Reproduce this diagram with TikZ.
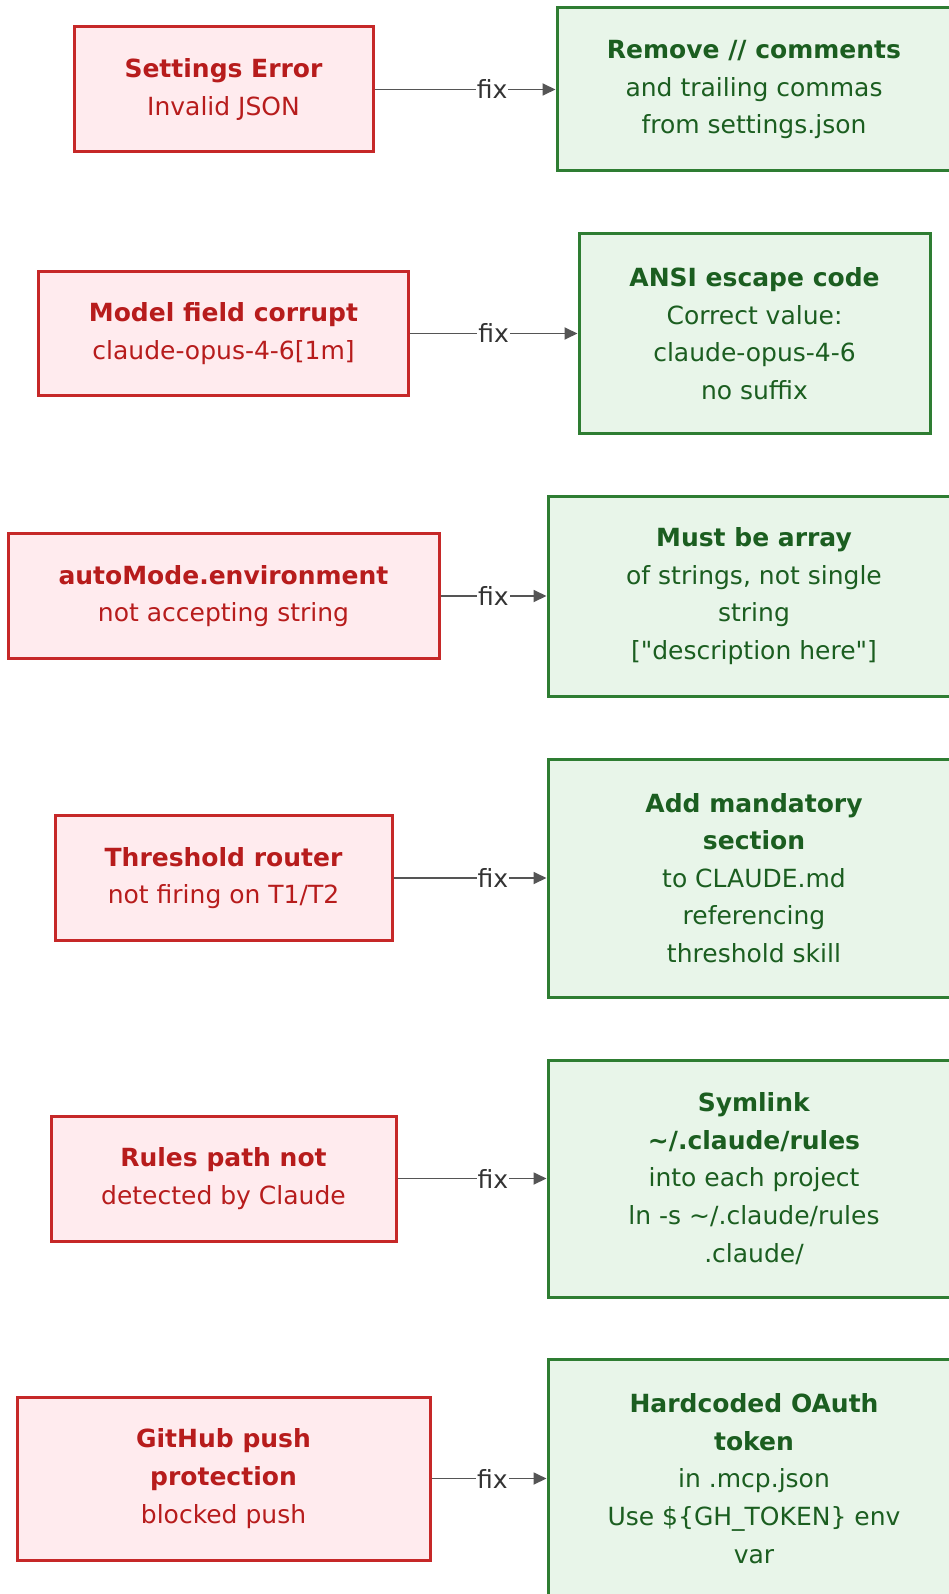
\documentclass[tikz,border=0pt]{standalone}
\usepackage{fontspec}
\setmainfont{DejaVu Sans}
\usetikzlibrary{arrows.meta}
\newcommand\straightdq{\XeTeXglyph\XeTeXcharglyph"22\relax}
\definecolor{errfill}{HTML}{FFEBEE}
\definecolor{errdraw}{HTML}{C62828}
\definecolor{errtext}{HTML}{B71C1C}
\definecolor{fixfill}{HTML}{E8F5E9}
\definecolor{fixdraw}{HTML}{2E7D32}
\definecolor{fixtext}{HTML}{1B5E20}
\definecolor{edgecol}{HTML}{555555}
\definecolor{labcol}{HTML}{333333}
\tikzset{
  basefont/.style={font=\fontsize{25}{37.6}\selectfont},
  errbox/.style={basefont, draw=errdraw, fill=errfill, text=errtext, line width=3pt, align=center, inner sep=0pt},
  fixbox/.style={basefont, draw=fixdraw, fill=fixfill, text=fixtext, line width=3pt, align=center, inner sep=0pt},
  fixedge/.style={draw=edgecol, line width=1.8pt, -{Triangle[length=13pt,width=12pt]}},
  fixlabel/.style={basefont, fill=white, text=labcol, inner sep=1pt}
}
\begin{document}
\begin{tikzpicture}[x=1pt,y=-1pt]
\useasboundingbox (0,0) rectangle (949,1594);
\fill[white] (0,0) rectangle (949,1594);

% error boxes
\node[errbox, minimum width=299pt, minimum height=125pt] (e1) at (223.5,89.5) {\textbf{Settings Error}\\Invalid JSON};
\node[errbox, minimum width=370pt, minimum height=124pt] (e2) at (223.5,333.5) {\textbf{Model field corrupt}\\claude-opus-4-6[1m]};
\node[errbox, minimum width=431pt, minimum height=125pt] (e3) at (223.5,596) {\textbf{autoMode.environment}\\not accepting string};
\node[errbox, minimum width=337pt, minimum height=125pt] (e4) at (223.5,878) {\textbf{Threshold router}\\not firing on T1/T2};
\node[errbox, minimum width=345pt, minimum height=125pt] (e5) at (223.5,1178.5) {\textbf{Rules path not}\\detected by Claude};
\node[errbox, minimum width=413pt, minimum height=163pt] (e6) at (223.5,1478.5) {\textbf{GitHub push}\\\textbf{protection}\\blocked push};

% fix boxes
\node[fixbox, minimum width=394pt, minimum height=163pt] (f1) at (754,89.5) {\textbf{Remove // comments}\\and trailing commas\\from settings.json};
\node[fixbox, minimum width=351pt, minimum height=199pt] (f2) at (754.5,333.5) {\textbf{ANSI escape code}\\Correct value:\\claude-opus-4-6\\no suffix};
\node[fixbox, minimum width=412pt, minimum height=200pt] (f3) at (754,596) {\textbf{Must be array}\\of strings, not single\\string\\{[}\straightdq description here\straightdq{]}};
\node[fixbox, minimum width=412pt, minimum height=238pt] (f4) at (754,878) {\textbf{Add mandatory}\\\textbf{section}\\to CLAUDE.md\\referencing\\threshold skill};
\node[fixbox, minimum width=412pt, minimum height=237pt] (f5) at (754,1178.5) {\textbf{Symlink}\\\textbf{\textasciitilde/.claude/rules}\\into each project\\ln -s \textasciitilde/.claude/rules\\.claude/};
\node[fixbox, minimum width=412pt, minimum height=239pt] (f6) at (754,1478.5) {\textbf{Hardcoded OAuth}\\\textbf{token}\\in .mcp.json\\Use \$\{GH\_TOKEN\} env\\var};

% connectors
\draw[fixedge] (e1.east) -- node[fixlabel, pos=0.65] {fix} (f1.west);
\draw[fixedge] (e2.east) -- node[fixlabel, pos=0.50] {fix} (f2.west);
\draw[fixedge] (e3.east) -- node[fixlabel, pos=0.50] {fix} (f3.west);
\draw[fixedge] (e4.east) -- node[fixlabel, pos=0.65] {fix} (f4.west);
\draw[fixedge] (e5.east) -- node[fixlabel, pos=0.64] {fix} (f5.west);
\draw[fixedge] (e6.east) -- node[fixlabel, pos=0.53] {fix} (f6.west);
\end{tikzpicture}
\end{document}
